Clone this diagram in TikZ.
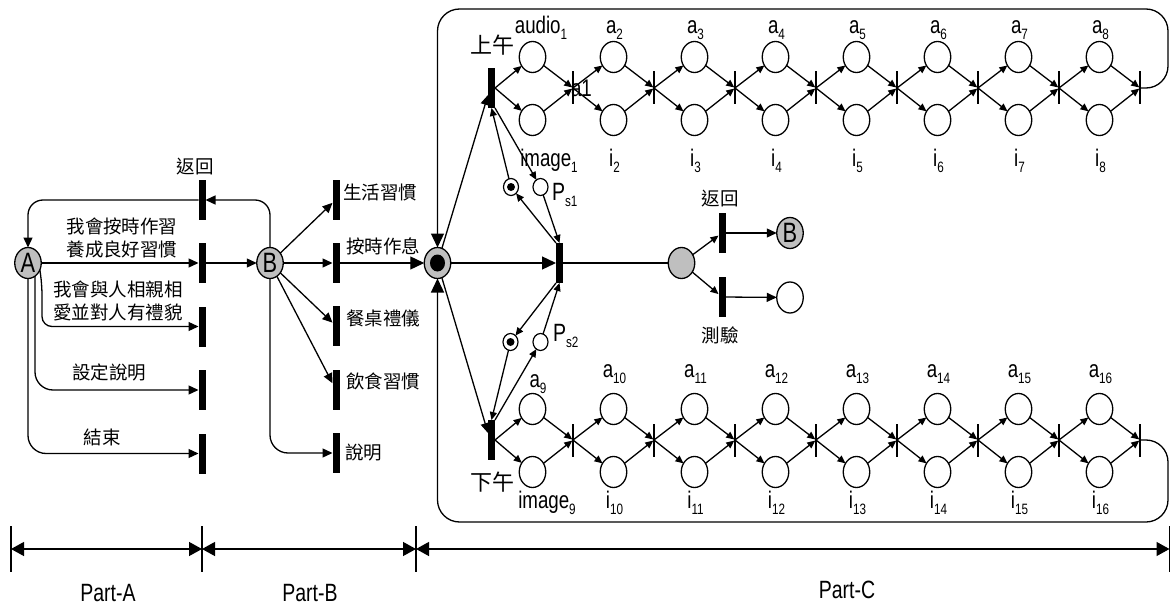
\documentclass[tikz,border=0pt]{standalone}
\usepackage{fontspec}
\setmainfont{Liberation Sans}
\newfontfamily\cjk{Noto Sans CJK TC}
\newfontfamily\nar[FakeStretch=0.78]{Liberation Sans}
\usetikzlibrary{arrows.meta,shapes.geometric,calc}
\newcommand{\lab}[2]{#1\raisebox{-6pt}{\fontsize{15}{15}\selectfont #2}}
\begin{document}
\begin{tikzpicture}[x=1pt,y=-1pt,
  every node/.style={inner sep=0pt,outer sep=0pt},
  line width=1.3pt,
  arr/.style={-{Triangle[length=10pt,width=9pt]}},
  sarr/.style={-{Triangle[length=8pt,width=7pt]}},
  barr/.style={-{Triangle[length=14pt,width=13pt]}},
  dbl/.style={{Triangle[length=13pt,width=14pt]}-{Triangle[length=13pt,width=14pt]}},
  tr/.style={rectangle,fill=black,minimum width=7pt,minimum height=40pt},
  thinbar/.style={rectangle,fill=black,minimum width=1.4pt,minimum height=33pt},
  pl/.style={ellipse,draw,minimum width=26.5pt,minimum height=31pt},
  gpl/.style={pl,fill=gray!50},
  sp/.style={ellipse,draw,line width=1.2pt,minimum width=15pt,minimum height=17pt},
  cj/.style={font=\cjk\fontsize{18.5}{23.5}\selectfont,align=center},
  cjb/.style={font=\cjk\fontsize{22}{22}\selectfont},
  lb/.style={font=\nar\fontsize{24}{24}\selectfont},
  big/.style={font=\nar\fontsize{28}{28}\selectfont},
  partlb/.style={font=\nar\fontsize{25}{25}\selectfont},
  ]
\useasboundingbox (0,0) rectangle (1171,610);

% ---------- Part A / B ----------
\node[gpl] (A) at (28,263) {};
\node[big] (Atext) at (A) {A};
\node[gpl] (B) at (270,263) {};
\node[big] (Btext) at (B) {B};

\node[tr] (ta1) at (202,200) {};
\node[tr] (ta2) at (202,263) {};
\node[tr] (ta3) at (202,326.5) {};
\node[tr] (ta4) at (202,390) {};
\node[tr] (ta5) at (202,453.5) {};

\node[tr] (tb1) at (336,199.5) {};
\node[tr] (tb2) at (336,263) {};
\node[tr] (tb3) at (336,326) {};
\node[tr] (tb4) at (336,390) {};
\node[tr] (tb5) at (336,453) {};

\node[cj] (l1) at (195,167) {返回};
\node[cj] (l2) at (122,238) {我會按時作習\\養成良好習慣};
\node[cj] (l3) at (118,301) {我會與人相親相\\愛並對人有禮貌};
\node[cj] (l4) at (109,372) {設定說明};
\node[cj] (l5) at (102,437) {結束};

\node[cj,anchor=west] (m1) at (343,192) {生活習慣};
\node[cj,anchor=west] (m2) at (346,246) {按時作息};
\node[cj,anchor=west] (m3) at (346,318.5) {餐桌禮儀};
\node[cj,anchor=west] (m4) at (346,381) {飲食習慣};
\node[cj,anchor=west] (m5) at (345,452.5) {說明};

\coordinate (a3s) at ($(A.center)+(14,22)$);
\coordinate (a4s) at ($(A.center)+(7,13)$);
\draw[arr] (A) -- (ta2);
\draw[arr,rounded corners=10pt] (A.-30) -- (a3s) |- (ta3);
\draw[arr,rounded corners=18pt] (a4s) |- (ta4);
\draw[arr,rounded corners=18pt] (A) |- (ta5);
\draw[arr,rounded corners=15pt] (ta1) -| (A);
\draw[arr,rounded corners=15pt] (B) |- (ta1);
\draw[arr] (ta2) -- (B);
\draw[arr] (B) -- (tb1);
\draw[arr] (B) -- (tb2);
\draw[arr] (B) -- (tb3);
\draw[arr] (B) -- (tb4);
\draw[arr,rounded corners=18pt] (B) |- (tb5);

% ---------- Part C ----------
\node[gpl] (cp) at (437.5,263) {};
\fill (cp) ellipse [x radius=7.5pt,y radius=8.5pt];
\draw[barr] (tb2) -- (cp);

\node[tr] (tU) at (491.5,88) {};
\node[tr] (tL) at (491.5,440) {};
\node[tr] (tm) at (559.5,263) {};
\node[cjb] (su) at (492,45) {上午};
\node[cjb] (sl) at (492,482) {下午};

\node[sp] (P1t) at (511,187) {};
\fill (P1t) circle (4pt);
\node[sp] (P1e) at (540.5,187) {};
\node[sp] (P2t) at (510.5,342) {};
\fill (P2t) circle (4pt);
\node[sp] (P2e) at (540.5,342) {};
\node[font=\nar\fontsize{25}{25}\selectfont,anchor=base west] (lp1) at (552,200) {\lab{P}{s1}};
\node[font=\nar\fontsize{25}{25}\selectfont,anchor=base west] (lp2) at (553,341) {\lab{P}{s2}};

\node[gpl] (g) at (681.5,263) {};
\node[tr] (tR) at (722,233) {};
\node[tr] (tT) at (722,297) {};
\node[gpl] (Bp) at (790,233) {};
\node[big] (Bptext) at (Bp) {B};
\node[pl] (E) at (790,297.5) {};
\node[cj] (lr) at (720,199) {返回};
\node[cj] (lt) at (720,335) {測驗};

\draw[barr] (cp) -- (tm);
\draw[arr] (cp) -- ($(tU.west)+(0,7)$);
\draw[arr] (cp) -- ($(tL.west)+(0,-7)$);
\draw[sarr] (tU.south east) -- (P1e);
\draw[sarr] (P1t) -- (tU.south);
\draw[sarr] (tm.north west) -- (P1t);
\draw[sarr] (P1e) -- (tm.north);
\draw[sarr] (tm.south west) -- (P2t);
\draw[sarr] (P2e) -- (tm.south);
\draw[sarr] (P2t) -- (tL.north);
\draw[sarr] (tL.north east) -- (P2e);
\draw (tm) -- (g);
\draw[sarr] (g) -- (tR);
\draw[sarr] (g) -- (tT);
\draw[arr] (tR) -- (Bp);
\draw[arr] (tT) -- (E);

% nets
\foreach \k in {1,...,8} {
  \pgfmathsetmacro\px{532.5+81*(\k-1)}
  \pgfmathsetmacro\tx{573+81*(\k-1)}
  \node[pl] (ua\k) at (\px,57) {};
  \node[pl] (ui\k) at (\px,120) {};
  \node[thinbar] (tt\k) at (\tx,88) {};
}
\foreach \k in {9,...,16} {
  \pgfmathsetmacro\px{532.5+81*(\k-9)}
  \pgfmathsetmacro\tx{573+81*(\k-9)}
  \node[pl] (ua\k) at (\px,409) {};
  \node[pl] (ui\k) at (\px,472) {};
  \node[thinbar] (tt\k) at (\tx,440) {};
}
\draw[sarr] (tU.east) -- (ua1);
\draw[sarr] (tU.east) -- (ui1);
\draw[sarr] (tL.east) -- (ua9);
\draw[sarr] (tL.east) -- (ui9);
\foreach \k in {1,...,16} {
  \draw[sarr] (ua\k) -- (tt\k);
  \draw[sarr] (ui\k) -- (tt\k);
}
\foreach \k in {1,...,7,9,10,...,15} {
  \pgfmathtruncatemacro\n{\k+1}
  \draw[sarr] (tt\k) -- (ua\n);
  \draw[sarr] (tt\k) -- (ui\n);
}

% labels
\node[lb,anchor=base] (la1) at (541,34) {\lab{audio}{1}};
\node[lb,anchor=base west] (la1b) at (571,97) {a1};
\node[lb,anchor=base] (li1) at (549,166) {\lab{image}{1}};
\foreach \k in {2,...,8} {
  \pgfmathsetmacro\px{533.5+81*(\k-1)}
  \node[lb,anchor=base] (la\k) at (\px,34) {\lab{a}{\k}};
  \node[lb,anchor=base] (li\k) at (\px,166) {\lab{i}{\k}};
}
\node[lb,anchor=base] (la9) at (538,387) {\lab{a}{9}};
\node[lb,anchor=base] (li9) at (547,508) {\lab{image}{9}};
\foreach \k in {10,...,16} {
  \pgfmathsetmacro\px{533.5+81*(\k-9)}
  \node[lb,anchor=base] (la\k) at (\px,377) {\lab{a}{\k}};
  \node[lb,anchor=base] (li\k) at (\px,508) {\lab{i}{\k}};
}

% loops
\draw[barr,rounded corners=22pt] (tt8.center) -- (1168,88) -- (1168,9) -- (437.5,9) -- (cp.north);
\draw[barr,rounded corners=22pt] (tt16.center) -- (1168,440) -- (1168,522) -- (437.5,522) -- (cp.south);

% ---------- axis ----------
\coordinate (x0) at (11,549);
\coordinate (x1) at (202,549);
\coordinate (x2) at (416,549);
\coordinate (x3) at (1169.5,549);
\foreach \c in {x0,x1,x2,x3} \draw ($(\c)+(0,-23)$) -- ($(\c)+(0,23)$);
\draw[dbl] (x0) -- (x1);
\draw[dbl] (x1) -- (x2);
\draw[dbl] (x2) -- (x3);
\node[partlb] (pa) at (108,593) {Part-A};
\node[partlb] (pb) at (310,593) {Part-B};
\node[partlb] (pc) at (847,590) {Part-C};
\end{tikzpicture}
\end{document}
